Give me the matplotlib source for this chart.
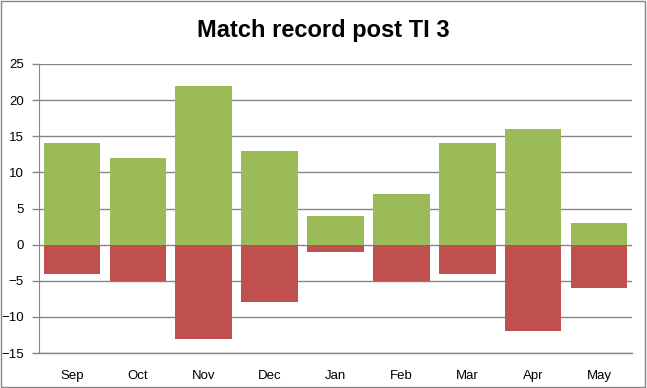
import matplotlib
matplotlib.use("Agg")
import matplotlib.pyplot as plt
import numpy as np

months = ["Sep", "Oct", "Nov", "Dec", "Jan", "Feb", "Mar", "Apr", "May"]
wins = [14, 12, 22, 13, 4, 7, 14, 16, 3]
losses = [-4, -5, -13, -8, -1, -5, -4, -12, -6]

plt.rcParams['font.family'] = ['Liberation Sans', 'DejaVu Sans']

fig = plt.figure(figsize=(6.47, 3.88), dpi=100)
ax = fig.add_axes([39/647, 1 - 353/388, (632 - 39)/647, (353 - 64)/388])

x = np.arange(len(months))
ax.bar(x, wins, width=0.86, color="#9BBB59", zorder=3)
ax.bar(x, losses, width=0.86, color="#C0504D", zorder=3)

ax.set_xlim(-0.5, len(months) - 0.5)
ax.set_ylim(-15, 25)
ax.set_yticks(range(-15, 26, 5))
ax.yaxis.grid(True, color="#868686", linewidth=1, zorder=0)
ax.axhline(-15, color="#868686", linewidth=1, clip_on=False, zorder=1)
ax.set_xticks(x)
ax.set_xticklabels(months)
ax.tick_params(axis="x", length=0, pad=12, labelsize=9.5)
ax.tick_params(axis="y", length=5, width=1, color="#868686", pad=6, labelsize=9.5)

for side in ["top", "right", "bottom"]:
    ax.spines[side].set_visible(False)
ax.spines["left"].set_color("#868686")

fig.text(0.5, 1 - 30/388, "Match record post TI 3", ha="center", va="center",
         fontsize=17, fontweight="bold")

fig.patches.append(plt.Rectangle((0.002, 0.003), 0.995, 0.994, transform=fig.transFigure,
                                 fill=False, edgecolor="#868686", linewidth=1))

fig.savefig("out.png", dpi=100)
